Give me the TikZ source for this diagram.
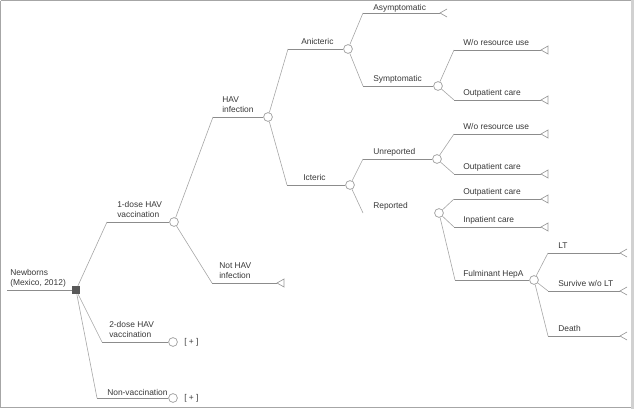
\documentclass[tikz,border=0pt]{standalone}
\usepackage{fontspec}
\setmainfont{Liberation Sans}
\usetikzlibrary{calc}
\begin{document}
\begin{tikzpicture}[x=0.75pt,y=-0.75pt,
  hline/.style={draw=black!45,line width=0.5pt},
  diag/.style={draw=black!35,line width=0.45pt},
  chance/.style={circle,draw=black!40,fill=white,line width=0.5pt,minimum size=6.6pt,inner sep=0pt},
  decis/.style={rectangle,fill=black!65,minimum size=6pt,inner sep=0pt},
  lbl/.style={anchor=south west,inner sep=0pt,text depth=0pt,align=left,font=\fontsize{6.3}{7.9}\selectfont,text=black!78},
  plusl/.style={anchor=west,inner sep=0pt,font=\fontsize{6.3}{7.9}\selectfont,text=black!78},
  term/.style={draw=black!40,line width=0.5pt,line join=miter},
  frame/.style={draw=black!35,line width=0.9pt}
]
\useasboundingbox (0,0) rectangle (634,409);
\draw[frame] (0.6,0.6) -- (631,0.6);
\draw[frame] (0.6,0.6) -- (0.6,407.8) -- (631,407.8);
\fill[black!18] (631,0) rectangle (634,409);

% root
\coordinate (r0) at (7,290);
\node[decis] (sq) at (76,290) {};
\draw[hline] (r0) -- (sq);
\node[lbl] (tRoot) at (10,286) {Newborns\\(Mexico, 2012)};

% level 1
\coordinate (s1) at (107,222);
\node[chance] (c1) at (174,222) {};
\draw[diag] (sq) -- (s1);
\draw[hline] (s1) -- (c1);
\node[lbl] (t1) at (117,218) {1-dose HAV\\vaccination};

\coordinate (s2) at (102,342);
\node[chance] (c2) at (173,342) {};
\draw[diag] (sq) -- (s2);
\draw[hline] (s2) -- (c2);
\node[lbl] (t2) at (109,338) {2-dose HAV\\vaccination};
\node[plusl] (p2) at (184,342) {[ + ]};

\coordinate (s3) at (97,398);
\node[chance] (c3) at (173,398) {};
\draw[diag] (sq) -- (s3);
\draw[hline] (s3) -- (c3);
\node[lbl] (t3) at (107,395.5) {Non-vaccination};
\node[plusl] (p3) at (184,398) {[ + ]};

% level 2
\coordinate (s11) at (213,117);
\node[chance] (c11) at (268,117) {};
\draw[diag] (c1) -- (s11);
\draw[hline] (s11) -- (c11);
\node[lbl] (t11) at (222,113) {HAV\\infection};

\coordinate (s12) at (212,283);
\coordinate (e12) at (277,283);
\draw[diag] (c1) -- (s12);
\draw[hline] (s12) -- (e12);
\draw[term] (e12) -- ++(7,-4) -- ++(0,8) -- cycle;
\node[lbl] (t12) at (219,279) {Not HAV\\infection};

% level 3
\coordinate (s111) at (288,49);
\node[chance] (c111) at (348,49) {};
\draw[diag] (c11) -- (s111);
\draw[hline] (s111) -- (c111);
\node[lbl] (t111) at (301,45) {Anicteric};

\coordinate (s112) at (287,185);
\node[chance] (c112) at (350,185) {};
\draw[diag] (c11) -- (s112);
\draw[hline] (s112) -- (c112);
\node[lbl] (t112) at (303,181) {Icteric};

% Anicteric children
\coordinate (sA1) at (363,13);
\coordinate (eA1) at (440,13);
\draw[diag] (c111) -- (sA1);
\draw[hline] (sA1) -- (eA1);
\draw[term] ($(eA1)+(7,-4)$) -- (eA1) -- ++(7,4);
\node[lbl] (tA1) at (373,10.5) {Asymptomatic};

\coordinate (sA2) at (363,86);
\node[chance] (cA2) at (438,86) {};
\draw[diag] (c111) -- (sA2);
\draw[hline] (sA2) -- (cA2);
\node[lbl] (tA2) at (373,82) {Symptomatic};

% Symptomatic children
\coordinate (sS1) at (454,50);
\coordinate (eS1) at (541,50);
\draw[diag] (cA2) -- (sS1);
\draw[hline] (sS1) -- (eS1);
\draw[term] (eS1) -- ++(7,-4) -- ++(0,8) -- cycle;
\node[lbl] (tS1) at (463,46) {W/o resource use};

\coordinate (sS2) at (454,100);
\coordinate (eS2) at (541,100);
\draw[diag] (cA2) -- (sS2);
\draw[hline] (sS2) -- (eS2);
\draw[term] (eS2) -- ++(7,-4) -- ++(0,8) -- cycle;
\node[lbl] (tS2) at (463,96) {Outpatient care};

% Icteric children
\coordinate (sI1) at (363,159);
\node[chance] (cI1) at (437,159) {};
\draw[diag] (c112) -- (sI1);
\draw[hline] (sI1) -- (cI1);
\node[lbl] (tI1) at (373,155) {Unreported};

\coordinate (sI2) at (363,213);
\node[chance] (cI2) at (439,213) {};
\draw[diag] (c112) -- (sI2);
\node[lbl] (tI2) at (373,209) {Reported};

% Unreported children
\coordinate (sU1) at (454,134);
\coordinate (eU1) at (541,134);
\draw[diag] (cI1) -- (sU1);
\draw[hline] (sU1) -- (eU1);
\draw[term] (eU1) -- ++(7,-4) -- ++(0,8) -- cycle;
\node[lbl] (tU1) at (463,130) {W/o resource use};

\coordinate (sU2) at (454,174);
\coordinate (eU2) at (541,174);
\draw[diag] (cI1) -- (sU2);
\draw[hline] (sU2) -- (eU2);
\draw[term] (eU2) -- ++(7,-4) -- ++(0,8) -- cycle;
\node[lbl] (tU2) at (463,170) {Outpatient care};

% Reported children
\coordinate (sR1) at (454,199);
\coordinate (eR1) at (541,199);
\draw[diag] (cI2) -- (sR1);
\draw[hline] (sR1) -- (eR1);
\draw[term] (eR1) -- ++(7,-4) -- ++(0,8) -- cycle;
\node[lbl] (tR1) at (463,195) {Outpatient care};

\coordinate (sR2) at (454,227);
\coordinate (eR2) at (541,227);
\draw[diag] (cI2) -- (sR2);
\draw[hline] (sR2) -- (eR2);
\draw[term] (eR2) -- ++(7,-4) -- ++(0,8) -- cycle;
\node[lbl] (tR2) at (463,223) {Inpatient care};

\coordinate (sR3) at (455,280);
\node[chance] (cR3) at (534,280) {};
\draw[diag] (cI2) -- (sR3);
\draw[hline] (sR3) -- (cR3);
\node[lbl] (tR3) at (463,276.5) {Fulminant HepA};

% Fulminant children
\coordinate (sF1) at (548,253);
\coordinate (eF1) at (620,253);
\draw[diag] (cR3) -- (sF1);
\draw[hline] (sF1) -- (eF1);
\draw[term] ($(eF1)+(7,-4)$) -- (eF1) -- ++(7,4);
\node[lbl] (tF1) at (558,249) {LT};

\coordinate (sF2) at (548,291);
\coordinate (eF2) at (620,291);
\draw[diag] (cR3) -- (sF2);
\draw[hline] (sF2) -- (eF2);
\draw[term] ($(eF2)+(7,-4)$) -- (eF2) -- ++(7,4);
\node[lbl] (tF2) at (558,287) {Survive w/o LT};

\coordinate (sF3) at (548,336);
\coordinate (eF3) at (620,336);
\draw[diag] (cR3) -- (sF3);
\draw[hline] (sF3) -- (eF3);
\draw[term] ($(eF3)+(7,-4)$) -- (eF3) -- ++(7,4);
\node[lbl] (tF3) at (558,332) {Death};
\end{tikzpicture}
\end{document}
